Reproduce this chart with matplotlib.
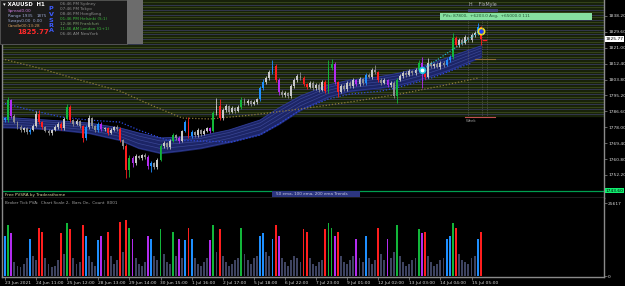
import numpy as np
import matplotlib.pyplot as plt
from matplotlib.patches import Rectangle

# ---- data ----
open0 = 1783.0
closes = [
    1781.9, 1792.8, 1784.1, 1780.8, 1778.1, 1776.5, 1777.6, 1775.4, 1776.5, 1778.7,
    1785.2, 1780.8, 1778.1, 1776.0, 1774.9, 1776.5, 1778.1, 1779.8, 1777.6, 1782.5,
    1789.0, 1781.9, 1779.8, 1781.4, 1778.7, 1772.2, 1778.1, 1783.0, 1778.7, 1776.5,
    1779.8, 1777.0, 1777.6, 1774.9, 1776.5, 1778.1, 1777.0, 1771.1, 1767.9, 1754.9,
    1761.4, 1758.7, 1762.5, 1761.4, 1763.0, 1761.9, 1757.0, 1758.7, 1756.5, 1760.3,
    1767.9, 1769.5, 1767.3, 1770.6, 1773.8, 1772.2, 1770.6, 1776.0, 1780.8, 1773.3,
    1775.4, 1773.8, 1776.5, 1774.3, 1776.0, 1777.6, 1776.0, 1785.7, 1789.5, 1783.0,
    1787.4, 1789.5, 1786.3, 1788.4, 1786.8, 1789.0, 1792.8, 1791.1, 1792.2, 1790.6,
    1791.7, 1793.3, 1799.2, 1802.5, 1804.6, 1807.9, 1811.1, 1803.6, 1797.1, 1795.5,
    1796.5, 1794.9, 1800.3, 1803.6, 1805.7, 1804.6, 1801.4, 1799.8, 1802.0, 1799.2,
    1800.9, 1798.2, 1802.5, 1797.6, 1810.0, 1812.2, 1802.5, 1797.1, 1800.3, 1798.7,
    1802.0, 1800.3, 1803.6, 1801.4, 1804.1, 1802.0, 1806.3, 1805.2, 1809.0, 1807.9,
    1803.6, 1802.0, 1803.6, 1800.9, 1802.0, 1794.9, 1803.6, 1805.7, 1807.4, 1806.3,
    1808.4, 1807.4, 1809.0, 1812.8, 1806.8, 1805.2, 1812.8, 1811.1, 1812.2, 1810.6,
    1812.8, 1811.7, 1814.4, 1816.0, 1826.3, 1822.5, 1825.2, 1823.6, 1826.8, 1825.2,
    1827.9, 1829.0, 1832.2, 1825.77,
]
wick_up = [
    0.8, 1.6, 0.7, 0.9, 0.6, 1.1, 0.8, 0.7, 1.0, 1.2,
    1.4, 2.2, 0.8, 0.6, 0.9, 0.7, 1.0, 0.8, 1.1, 0.9,
    1.6, 0.9, 0.7, 1.2, 0.8, 0.6, 1.0, 1.6, 0.8, 0.7,
    0.9, 1.1, 0.6, 0.8, 1.0, 0.7, 0.9, 1.2, 0.8, 1.0,
    1.8, 0.9, 1.1, 0.7, 0.8, 1.0, 0.9, 0.8, 0.7, 1.2,
    1.0, 1.3, 0.8, 1.1, 0.9, 0.7, 1.0, 0.8, 1.2, 2.6,
    0.9, 0.8, 1.0, 0.7, 0.9, 0.8, 0.6, 1.2, 4.3, 3.8,
    1.0, 1.2, 0.8, 0.9, 0.7, 1.0, 1.6, 0.8, 0.9, 0.7,
    1.0, 0.8, 1.1, 1.4, 1.0, 1.2, 3.3, 1.0, 0.8, 0.9,
    1.1, 0.7, 1.3, 1.0, 0.9, 2.2, 1.0, 0.8, 1.2, 0.9,
    0.8, 1.0, 1.1, 0.9, 4.4, 2.8, 1.0, 0.8, 0.9, 1.0,
    0.8, 1.2, 0.9, 0.7, 1.0, 0.8, 1.2, 0.9, 1.1, 2.7,
    0.8, 0.9, 1.0, 0.7, 0.8, 0.9, 1.0, 1.1, 0.8, 0.9,
    1.0, 0.8, 0.9, 1.4, 3.2, 0.8, 2.7, 0.9, 0.8, 1.0,
    0.9, 0.8, 1.0, 1.1, 2.7, 1.2, 1.0, 0.9, 1.1, 0.8,
    1.0, 1.2, 2.2, 0.8,
]
wick_dn = [
    0.9, 0.8, 1.0, 0.7, 1.2, 0.8, 0.9, 1.1, 0.8, 0.7,
    0.8, 0.9, 1.0, 0.8, 1.2, 0.9, 0.7, 0.8, 1.0, 0.9,
    0.8, 1.1, 0.9, 0.7, 1.0, 2.2, 1.0, 0.8, 0.9, 1.1,
    0.8, 1.0, 0.9, 1.2, 0.8, 0.7, 0.9, 1.0, 1.4, 4.3,
    3.6, 2.4, 1.0, 0.8, 0.9, 1.1, 1.6, 3.2, 1.2, 0.9,
    0.8, 0.9, 1.0, 0.8, 0.7, 1.0, 0.9, 0.8, 0.7, 1.1,
    0.9, 1.0, 0.8, 0.9, 0.7, 0.8, 1.0, 0.8, 0.9, 1.0,
    0.8, 0.9, 1.0, 0.7, 0.9, 0.8, 0.9, 1.0, 0.8, 0.9,
    0.8, 0.9, 1.0, 0.8, 0.9, 0.8, 1.0, 1.2, 1.5, 1.0,
    0.9, 1.2, 0.8, 0.9, 1.0, 0.8, 0.9, 1.1, 0.8, 1.0,
    0.9, 1.1, 0.8, 1.0, 0.9, 0.8, 1.0, 2.7, 0.8, 0.9,
    1.0, 0.8, 0.9, 1.0, 0.8, 0.9, 1.0, 0.8, 0.9, 1.0,
    1.2, 1.0, 0.8, 0.9, 1.0, 1.1, 3.8, 0.8, 0.9, 1.0,
    0.8, 0.9, 1.0, 0.8, 7.6, 1.0, 0.8, 0.9, 1.0, 0.8,
    0.9, 1.0, 0.8, 0.9, 1.0, 1.2, 0.9, 1.0, 0.8, 0.9,
    0.8, 1.0, 0.9, 3.3,
]
# PVSRA class per bar: n normal, r climax bear, g climax bull, b rising bull, m rising bear
pvsra = list(
    "bgmnnnnnbn" "nrrnnnnnrn" "grnnnrbnnn" "bmnrnnnrnr" "gmnnnnmbnn"
    "gnnngnmnbr" "bnnnnnmgnr" "nnnnnngnnn" "nnbbnnbrmn" "nnnnnnrrnn"
    "nnnrggmrnn" "nnnmnnbnnn" "rnnmnngnnn" "nnngmrnnnn" "nnbbgrnnnn" "nnbr"
)
volume = [
    14000, 18000, 15000, 5000, 3500, 3000, 4200, 6300, 13000, 7000,
    5600, 17000, 15500, 6300, 4200, 3200, 3500, 5600, 15000, 7700,
    18500, 16500, 6300, 4200, 4900, 18000, 14000, 7000, 4900, 3500,
    12500, 14000, 5600, 15500, 7000, 4200, 5600, 19000, 8400, 19500,
    17000, 13000, 6300, 4200, 3500, 4900, 14000, 13000, 7000, 5600,
    16500, 7700, 4900, 4200, 15500, 7000, 13000, 6300, 12500, 17000,
    13000, 6300, 4200, 3500, 4900, 6300, 12500, 18000, 8400, 16500,
    7000, 4900, 3500, 4200, 5600, 6300, 17000, 7700, 5600, 4200,
    6300, 7000, 14000, 15000, 8400, 7000, 13000, 18000, 14000, 6300,
    4900, 3500, 5600, 7000, 6300, 4900, 16500, 15500, 6300, 4200,
    3500, 4900, 5600, 16500, 18500, 17000, 14000, 15500, 7000, 4900,
    4200, 5600, 7000, 13000, 6300, 4900, 14000, 6300, 4200, 5600,
    17000, 7700, 5600, 13000, 6300, 8400, 18000, 7000, 4900, 3500,
    4200, 5600, 6300, 16500, 15000, 15500, 7000, 4900, 3500, 4200,
    5600, 6300, 13000, 14000, 18500, 17000, 7700, 5600, 4900, 4200,
    6300, 7000, 13000, 15500,
]

# 50 ema channel (upper / lower), 100 ema and 200 ema, sampled at bar numbers
band_x = [-2, 8, 18, 27, 37, 43, 50, 56, 63, 72, 82, 88, 95, 104, 111, 120, 127, 133, 142, 153]
band_top = [1783.6, 1782.5, 1781.4, 1780.3, 1777.6, 1774.9, 1772.2, 1772.7, 1773.3, 1776.5,
            1781.9, 1788.4, 1794.9, 1800.9, 1803.6, 1805.2, 1807.4, 1810.0, 1815.5, 1822.0]
band_bot = [1778.1, 1777.6, 1776.5, 1774.9, 1771.1, 1766.8, 1764.1, 1765.2, 1766.8, 1770.0,
            1774.3, 1779.8, 1787.4, 1794.4, 1797.6, 1799.2, 1800.9, 1803.6, 1808.4, 1816.0]
ema100_x = [-2, 8, 18, 27, 37, 43, 52, 63, 73, 82, 88, 95, 104, 111, 121, 127, 137, 150]
ema100 = [1791.7, 1787.4, 1783.6, 1781.9, 1780.8, 1776.5, 1771.1, 1770.6, 1770.0, 1773.8,
          1779.8, 1787.4, 1793.3, 1796.0, 1797.6, 1799.8, 1804.6, 1812.8]
ema200_x = [-2, 11, 24, 37, 47, 57, 66, 79, 95, 111, 127, 140, 152]
ema200 = [1815.5, 1810.0, 1803.6, 1797.6, 1790.0, 1783.0, 1782.5, 1784.6, 1787.9, 1791.7,
          1796.0, 1800.3, 1804.6]

zone_top = 1846.9
zone_bottom = 1784.1
zone_levels = [1845.6, 1844.2, 1842.9, 1841.5, 1840.3, 1838.9, 1837.6, 1836.2, 1834.9, 1833.5,
               1832.3, 1830.8, 1829.5, 1828.2, 1826.8, 1825.5, 1824.1, 1822.8, 1821.4, 1820.1,
               1818.8, 1817.4, 1816.0, 1814.7, 1813.4, 1812.0, 1810.7, 1809.3, 1808.0, 1806.6,
               1805.3, 1803.9, 1802.6, 1801.2, 1799.9, 1798.5, 1797.2, 1795.8, 1794.5, 1793.1,
               1791.8, 1790.4, 1789.1, 1787.7, 1786.4, 1785.0]
low_line = 1743.6
last_price = 1825.77
trend_x = [134, 153]
trend_y = [1809.0, 1830.1]

price_ticks = [1838.20, 1829.60, 1821.00, 1812.40, 1803.80, 1795.20, 1786.60, 1778.00,
               1769.40, 1760.80, 1752.20]
time_ticks = [0, 10, 20, 30, 40, 50, 60, 70, 80, 90, 100, 110, 120, 130, 140, 150]
time_labels = ["23 Jun 2021", "24 Jun 11:00", "25 Jun 12:00", "28 Jun 13:00", "29 Jun 14:00",
               "30 Jun 15:00", "1 Jul 16:00", "2 Jul 17:00", "5 Jul 18:00", "6 Jul 22:00",
               "7 Jul 23:00", "9 Jul 01:00", "12 Jul 02:00", "13 Jul 03:00", "14 Jul 04:00",
               "15 Jul 05:00"]
vol_max = 25617

colors = {'r': '#ff1e1e', 'g': '#12b63a', 'b': '#1e8fff', 'm': '#b32cf0'}
W, H = 625, 286
FS = 3.2
ST = 3.0
grid_col = '#8a8a8a'

fig = plt.figure(figsize=(W / 100, H / 100), dpi=100, facecolor='black')

# main price panel
ax = fig.add_axes([2 / W, 1 - 198 / H, 602 / W, 198 / H])
ax.set_facecolor('black')
px_bar = 3.11
x0 = -3 / px_bar
ax.set_xlim(x0, x0 + 602 / px_bar)
ax.set_ylim(1846.85 - 198 * 0.5409, 1846.85)

ax.axhspan(zone_bottom, zone_top, color='#18220a', zorder=0)
for k, lev in enumerate(zone_levels):
    ax.axhline(lev, color='#3a4a1c' if k % 2 == 0 else '#363a58', lw=0.6, zorder=0.5)

idx = np.arange(len(closes))
cl = np.array(closes)
op = np.array([open0] + closes[:-1])
hi = np.maximum(op, cl) + np.array(wick_up)
lo = np.minimum(op, cl) - np.array(wick_dn)
ccol = []
for o, c, k in zip(op, cl, pvsra):
    if k == 'n':
        ccol.append('#c8c8c8' if c >= o else '#8e8e8e')
    else:
        ccol.append(colors[k])

# ema channel
ax.fill_between(band_x, band_top, band_bot, color='#1c2566', zorder=1)
bt, bb = np.array(band_top), np.array(band_bot)
for f in (0.3, 0.55, 0.8):
    ax.plot(band_x, bb + (bt - bb) * f, color='#3a4694', lw=0.5, zorder=1.2)
ax.plot(band_x, band_top, color='#2e3a90', lw=0.7, zorder=1.2)
ax.plot(band_x, band_bot, color='#2e3a90', lw=0.7, zorder=1.2)
ax.plot(ema100_x, ema100, color='#2d4ae0', lw=0.9, ls=(0, (1, 1.5)), zorder=1.5)
ax.plot(ema200_x, ema200, color='#8c7a3a', lw=0.9, ls=(0, (1, 1.5)), zorder=1.5)

ax.vlines(idx, lo, hi, colors=ccol, lw=0.6, zorder=2)
ax.bar(idx, np.maximum(np.abs(cl - op), 0.25), bottom=np.minimum(op, cl), width=0.6,
       color=ccol, zorder=2.1)

ax.plot(trend_x, trend_y, color='#20c8e0', lw=0.8, ls=(0, (1, 1.5)), zorder=3)
ax.plot(trend_x[0], trend_y[0], 'o', ms=4, mfc='white', mec='#20c8e0', mew=1.2, zorder=3.1)
ax.plot(trend_x[1], trend_y[1], 'o', ms=4.5, mfc='#1a3cff', mec='#f0e020', mew=1.2, zorder=3.1)

ax.axhline(low_line, color='#00a050', lw=0.9, zorder=2)

ax.yaxis.tick_right()
ax.set_yticks(price_ticks)
ax.set_yticklabels([f"{v:.2f}" for v in price_ticks])
ax.tick_params(axis='y', colors=grid_col, labelcolor='#d8d8d8', labelsize=FS, length=2,
               width=0.5, pad=1)
ax.set_xticks([])
ax.spines['top'].set_visible(False)
for s in ('left', 'right', 'bottom'):
    ax.spines[s].set_color(grid_col)
    ax.spines[s].set_linewidth(1.0)

# price tags on the scale
ax.text(1.003, last_price, f"{last_price:.2f}", transform=ax.get_yaxis_transform(),
        fontsize=FS, color='black', va='center', ha='left',
        bbox=dict(boxstyle='square,pad=0.12', fc='white', ec='none'))
ax.text(1.003, low_line, f"{low_line:.2f}", transform=ax.get_yaxis_transform(),
        fontsize=FS, color='black', va='center', ha='left',
        bbox=dict(boxstyle='square,pad=0.12', fc='#10f070', ec='none'))

# volume panel
av = fig.add_axes([2 / W, 1 - 277 / H, 602 / W, 79 / H])
av.set_facecolor('black')
av.set_xlim(ax.get_xlim())
av.set_ylim(-351, 27378)
vcol = ['#3e4360' if k == 'n' else colors[k] for k in pvsra]
av.bar(idx, volume, width=0.6, color=vcol)
av.yaxis.tick_right()
av.set_yticks([0, vol_max])
av.set_yticklabels(["0", str(vol_max)])
av.set_xticks(time_ticks)
av.set_xticklabels(time_labels)
av.tick_params(axis='y', colors=grid_col, labelcolor='#d8d8d8', labelsize=FS, length=2,
               width=0.5, pad=1)
av.tick_params(axis='x', colors=grid_col, labelcolor='#d8d8d8', labelsize=FS, length=2,
               width=0.5, pad=1)
for lab in av.get_xticklabels():
    lab.set_horizontalalignment('left')
av.spines['top'].set_visible(False)
for s in ('left', 'right', 'bottom'):
    av.spines[s].set_color(grid_col)
    av.spines[s].set_linewidth(1.0)

# overlay in pixels for the on-chart panels and labels
ov = fig.add_axes([0, 0, 1, 1])
ov.set_xlim(0, W)
ov.set_ylim(H, 0)
ov.axis('off')
ov.patch.set_alpha(0)

ov.add_patch(Rectangle((0, 0), 127, 44, fc='#1b1b1b', ec='#5a5a5a', lw=0.6))
ov.add_patch(Rectangle((127, 0), 16, 44, fc='#6c6c6c', ec='none'))
ov.text(3, 5, "▾ XAUUSD  H1", fontsize=3.9, color='white', weight='bold', va='center')
ov.text(8, 11, "Spread0.00", fontsize=ST, color='#c87ad8', va='center')
ov.text(8, 16, "Range 1935", fontsize=ST, color='#9aa6d0', va='center')
ov.text(37, 16, "1875", fontsize=ST, color='#9aa6d0', va='center')
ov.text(8, 21, "Swaps0.00  0.00", fontsize=ST, color='#9aa6d0', va='center')
ov.text(8, 26, "Candle00:13:28", fontsize=ST, color='#d8a060', va='center')
ov.text(17, 32.5, f"{last_price:.2f}", fontsize=5.0, color='#ff2a2a', weight='bold', va='center')
for k, ch in enumerate("PVSRA"):
    ov.text(51, 9 + k * 5.5, ch, fontsize=4.6, color='#3c5cff', weight='bold',
            ha='center', va='center')
sessions = [("06:46 PM Sydney", '#8c8c8c'), ("07:46 PM Tokyo", '#8c8c8c'),
            ("08:46 PM HongKong", '#8c8c8c'), ("01:46 PM Helsinki (S:1)", '#3cb83c'),
            ("12:46 PM Frankfurt", '#7c9c6c'), ("11:46 AM London (G+1)", '#3cb83c'),
            ("06:46 AM NewYork", '#8c8c8c')]
for k, (txt, c) in enumerate(sessions):
    ov.text(60, 4 + k * 5, txt, fontsize=ST, color=c, va='center')

# top right info
ov.text(469, 4.5, "H    FlxMyle", fontsize=3.4, color='#b0b0b0', va='center')
ov.add_patch(Rectangle((468, 8.5), 30, 3, fc='#3c3c78', ec='none'))
ov.add_patch(Rectangle((440, 13), 152, 7, fc='#86e0a0', ec='none'))
ov.text(443, 16.5, "PVs: 87800,  +6203.0 Avg,  +65000.0 111", fontsize=ST, color='#1f5030',
        va='center')
for xv in (468, 482, 487):
    ov.plot([xv, xv], [21, 117], color='#6a6a6a', lw=0.5, ls=(0, (1, 1.5)))
ov.plot([475, 495], [59, 59], color='#8a6a40', lw=0.8)
ov.plot([465, 495], [117, 117], color='#c05050', lw=0.8)
ov.text(466, 120.5, "Week", fontsize=2.8, color='#9a9a9a', va='center')
ov.plot([483, 486], [40, 40], color='#ff2020', lw=1.0)

# bottom strip labels
ov.text(5, 195, "Free PVSRA by Traderathome", fontsize=ST, color='#d8d8a0', va='center')
ov.add_patch(Rectangle((272, 190.5), 88, 6.5, fc='#2c3680', ec='none'))
ov.text(276, 193.8, "50 ema, 100 ema, 200 ema Trends", fontsize=ST, color='#c8c8e0', va='center')
ov.text(5, 203, "Broker Tick PVA:  Chart Scale 2,  Bars On,  Count  8001", fontsize=ST,
        color='#a0a0a0', va='center')

fig.savefig('out.png', dpi=100, facecolor='black')
